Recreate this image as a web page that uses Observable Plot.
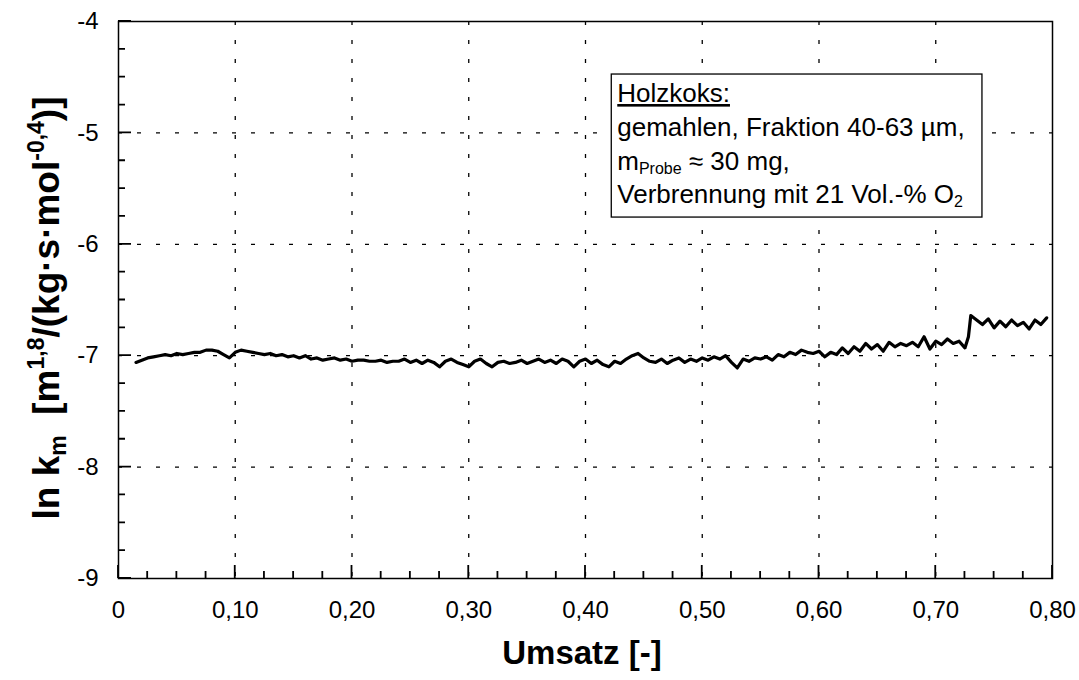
<!DOCTYPE html>
<html><head><meta charset="utf-8">
<script src="https://cdn.jsdelivr.net/npm/d3@7"></script>
<script src="https://cdn.jsdelivr.net/npm/@observablehq/plot@0.6"></script>
<style>body{margin:0;background:#fff;} svg{display:block;}</style>
</head><body><div id="chart"></div>
<script>
// ---- data ----
const umsatz = [0.015,0.020,0.025,0.030,0.035,0.040,0.045,0.050,0.055,0.060,0.065,0.070,0.075,0.080,0.085,0.090,0.095,0.100,0.105,0.110,0.115,0.120,0.125,0.130,0.135,0.140,0.145,0.150,0.155,0.160,0.165,0.170,0.175,0.180,0.185,0.190,0.195,0.200,0.205,0.210,0.215,0.220,0.225,0.230,0.235,0.240,0.245,0.250,0.255,0.260,0.265,0.270,0.275,0.280,0.285,0.290,0.295,0.300,0.305,0.310,0.315,0.320,0.325,0.330,0.335,0.340,0.345,0.350,0.355,0.360,0.365,0.370,0.375,0.380,0.385,0.390,0.395,0.400,0.405,0.410,0.415,0.420,0.425,0.430,0.435,0.440,0.445,0.450,0.455,0.460,0.465,0.470,0.475,0.480,0.485,0.490,0.495,0.500,0.505,0.510,0.515,0.520,0.525,0.530,0.535,0.540,0.545,0.550,0.555,0.560,0.565,0.570,0.575,0.580,0.585,0.590,0.595,0.600,0.605,0.610,0.615,0.620,0.625,0.630,0.635,0.640,0.645,0.650,0.655,0.660,0.665,0.670,0.675,0.680,0.685,0.690,0.695,0.700,0.705,0.710,0.715,0.720,0.725,0.728,0.730,0.735,0.740,0.745,0.750,0.755,0.760,0.765,0.770,0.775,0.780,0.785,0.790,0.795];
const lnKm = [-7.06,-7.04,-7.02,-7.01,-7.00,-6.99,-7.00,-6.98,-6.99,-6.98,-6.97,-6.97,-6.95,-6.95,-6.96,-6.99,-7.02,-6.97,-6.95,-6.96,-6.97,-6.98,-6.99,-6.98,-7.00,-6.99,-7.01,-7.00,-7.02,-7.00,-7.03,-7.02,-7.04,-7.03,-7.02,-7.04,-7.03,-7.05,-7.04,-7.04,-7.05,-7.05,-7.04,-7.06,-7.05,-7.05,-7.03,-7.06,-7.04,-7.07,-7.04,-7.06,-7.10,-7.05,-7.03,-7.06,-7.08,-7.10,-7.05,-7.03,-7.07,-7.10,-7.06,-7.05,-7.07,-7.06,-7.04,-7.07,-7.05,-7.03,-7.06,-7.04,-7.07,-7.03,-7.05,-7.10,-7.05,-7.03,-7.07,-7.04,-7.08,-7.10,-7.05,-7.07,-7.03,-7.00,-6.98,-7.02,-7.05,-7.06,-7.03,-7.07,-7.04,-7.02,-7.06,-7.03,-7.05,-7.02,-7.04,-7.01,-7.03,-7.00,-7.06,-7.11,-7.03,-7.05,-7.02,-7.03,-7.01,-7.04,-6.99,-7.01,-6.97,-6.99,-6.95,-6.97,-6.98,-6.96,-7.01,-6.97,-6.99,-6.93,-6.98,-6.92,-6.96,-6.89,-6.94,-6.90,-6.96,-6.88,-6.92,-6.89,-6.91,-6.88,-6.92,-6.83,-6.94,-6.87,-6.90,-6.85,-6.89,-6.87,-6.93,-6.83,-6.64,-6.68,-6.72,-6.67,-6.75,-6.69,-6.74,-6.68,-6.73,-6.70,-6.76,-6.68,-6.72,-6.66];
const xMajorTicks = [0,0.1,0.2,0.3,0.4,0.5,0.6,0.7,0.8];
const xTickLabels = ["0","0,10","0,20","0,30","0,40","0,50","0,60","0,70","0,80"];
const xMinorTicks = [0.025,0.05,0.075,0.125,0.15,0.175,0.225,0.25,0.275,0.325,0.35,0.375,0.425,0.45,0.475,0.525,0.55,0.575,0.625,0.65,0.675,0.725,0.75,0.775];
const yMajorTicks = [-9,-8,-7,-6,-5,-4];
const yMinorTicks = [-8.75,-8.5,-8.25,-7.75,-7.5,-7.25,-6.75,-6.5,-6.25,-5.75,-5.5,-5.25,-4.75,-4.5,-4.25];
const xTitle = "Umsatz [-]";
const annotationTitle = "Holzkoks:";

// ---- chart ----
const data = umsatz.map((x, i) => ({x, y: lnKm[i]}));
const xLabelOf = new Map(xMajorTicks.map((t, i) => [t, xTickLabels[i]]));
const box = [{x1: 0.4225, x2: 0.740, y1: -4.476, y2: -5.76}];
const grid = {stroke: "#000", strokeOpacity: 1, strokeWidth: 1.3, strokeDasharray: "4,15"};

const plot = Plot.plot({
  width: 1079, height: 680,
  marginLeft: 118, marginRight: 27, marginTop: 21, marginBottom: 102,
  style: {fontFamily: "'Liberation Sans', Arial, sans-serif", fontSize: "24px", color: "#000", background: "#fff"},
  x: {domain: [0, 0.8]},
  y: {domain: [-9, -4]},
  marks: [
    Plot.gridX(xMajorTicks.slice(1, -1), grid),
    Plot.gridY(yMajorTicks.slice(1, -1), grid),
    Plot.axisX(xMajorTicks, {anchor: "bottom", tickSize: 0, tickPadding: 22, tickFormat: d => xLabelOf.get(d), label: null}),
    Plot.axisY(yMajorTicks, {anchor: "left", tickSize: 0, tickPadding: 20, tickFormat: d => String(d), label: null}),
    Plot.line(data, {x: "x", y: "y", stroke: "#000", strokeWidth: 3.2, strokeLinejoin: "round"}),
    Plot.frame({stroke: "#000", strokeWidth: 1.5}),
    Plot.rect(box, {x1: "x1", x2: "x2", y1: "y1", y2: "y2", fill: "#fff", stroke: "#000", strokeWidth: 1.3})
  ]
});
document.getElementById("chart").appendChild(plot);

const svg = d3.select(plot);
const sx = plot.scale("x"), sy = plot.scale("y");
const font = "'Liberation Sans', Arial, sans-serif";

// inward ticks, placed through Plot's scales (drawn as one path)
const x0 = sx.apply(0), yB = sy.apply(-9);
let tickPath = "";
[[xMinorTicks, 7], [xMajorTicks, 13]].forEach(([ts, len]) => ts.forEach(t => {
  const px = sx.apply(t);
  tickPath += `M${px},${yB}V${yB - len}`;
}));
[[yMinorTicks, 7], [yMajorTicks, 13]].forEach(([ts, len]) => ts.forEach(t => {
  const py = sy.apply(t);
  tickPath += `M${x0},${py}H${x0 + len}`;
}));
svg.append("path").attr("d", tickPath).attr("fill", "none").attr("stroke", "#000").attr("stroke-width", 1.8);

// annotation text
const bx = sx.apply(box[0].x1) + 6, by = sy.apply(box[0].y1);
const ann = svg.append("g").attr("font-family", font).attr("font-size", 26).attr("fill", "#000").attr("text-anchor", "start");
ann.append("text").attr("x", bx).attr("y", by + 28).attr("text-decoration", "underline").text(annotationTitle);
ann.append("text").attr("x", bx).attr("y", by + 62).text("gemahlen, Fraktion 40-63 µm,");
const t3 = ann.append("text").attr("x", bx).attr("y", by + 96);
t3.append("tspan").text("m");
t3.append("tspan").attr("font-size", 16).attr("dy", 4).text("Probe");
t3.append("tspan").attr("dy", -4).text(" ≈ 30 mg,");
const t4 = ann.append("text").attr("x", bx).attr("y", by + 129);
t4.append("tspan").text("Verbrennung mit 21 Vol.-% O");
t4.append("tspan").attr("font-size", 16).attr("dy", 4).text("2");

// axis titles
svg.append("text").attr("x", 582).attr("y", 664).attr("text-anchor", "middle")
  .attr("font-family", font).attr("font-weight", "bold").attr("font-size", 33).text(xTitle);

const yl = svg.append("text").attr("transform", "translate(59,308) rotate(-90)").attr("text-anchor", "middle")
  .attr("font-family", font).attr("font-weight", "bold").attr("font-size", 37);
yl.append("tspan").text("ln k");
yl.append("tspan").attr("font-size", 23).attr("dy", 7).text("m");
yl.append("tspan").attr("dy", -7).text("\u00a0\u00a0[m");
yl.append("tspan").attr("font-size", 23).attr("dy", -15).text("1,8");
yl.append("tspan").attr("dy", 15).text("/(kg·s·mol");
yl.append("tspan").attr("font-size", 23).attr("dy", -15).text("-0,4");
yl.append("tspan").attr("dy", 15).text(")]");
</script>
</body></html>
